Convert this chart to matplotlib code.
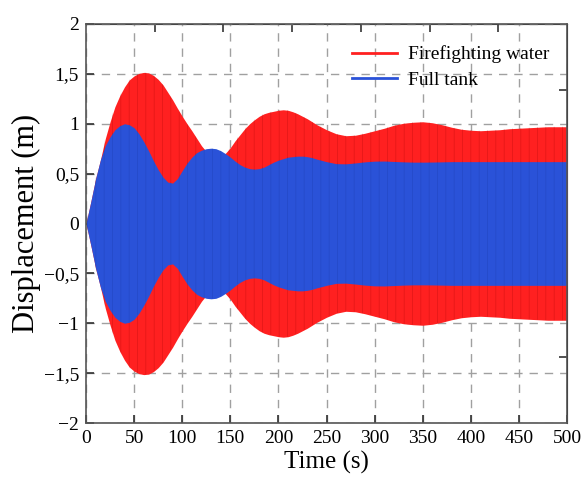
import numpy as np
import matplotlib.pyplot as plt

plt.rcParams['font.family'] = ['Liberation Serif', 'DejaVu Serif']
plt.rcParams['hatch.linewidth'] = 0.5

# envelope of the displacement response (m), sampled every 5 s to 240 s, then every 10 s
time = np.r_[0:245:5, 250:510:10]
firefighting_amp = [
    0.0, 0.22, 0.45, 0.64, 0.85, 1.02, 1.17, 1.28, 1.37, 1.44,
    1.48, 1.505, 1.515, 1.51, 1.485, 1.445, 1.39, 1.315, 1.24, 1.155,
    1.075, 1.0, 0.93, 0.855, 0.78, 0.72, 0.68, 0.665, 0.675, 0.705,
    0.76, 0.83, 0.89, 0.95, 1.0, 1.04, 1.075, 1.1, 1.115, 1.125,
    1.135, 1.14, 1.135, 1.12, 1.1, 1.075, 1.05, 1.02, 0.99,
    0.94, 0.9, 0.88, 0.885, 0.905, 0.93, 0.955, 0.985, 1.005, 1.015,
    1.02, 1.01, 0.99, 0.965, 0.945, 0.935, 0.93, 0.935, 0.94, 0.95,
    0.955, 0.96, 0.965, 0.97, 0.97, 0.97,
]
full_tank_amp = [
    0.0, 0.22, 0.45, 0.64, 0.78, 0.87, 0.94, 0.98, 1.0, 0.99,
    0.96, 0.9, 0.82, 0.73, 0.63, 0.54, 0.465, 0.415, 0.405, 0.45,
    0.53, 0.605, 0.665, 0.71, 0.735, 0.75, 0.755, 0.75, 0.73, 0.70,
    0.665, 0.625, 0.59, 0.565, 0.55, 0.545, 0.55, 0.565, 0.59, 0.615,
    0.635, 0.65, 0.665, 0.67, 0.675, 0.675, 0.67, 0.66, 0.645,
    0.62, 0.6, 0.598, 0.607, 0.618, 0.625, 0.626, 0.622, 0.618, 0.615,
    0.615, 0.616, 0.618, 0.62, 0.62, 0.62, 0.62, 0.62, 0.62, 0.62,
    0.62, 0.62, 0.62, 0.62, 0.62, 0.62,
]
series = [
    ('Firefighting water', firefighting_amp, '#ff2020', (0.6, 0.0, 0.0, 0.3)),
    ('Full tank', full_tank_amp, '#2a52d8', (0.05, 0.15, 0.5, 0.2)),
]
yticks = [-2, -1.5, -1, -0.5, 0, 0.5, 1, 1.5, 2]
ytick_labels = ['\u22122', '\u22121,5', '\u22121', '\u22120,5', '0', '0,5', '1', '1,5', '2']
xticks = [0, 50, 100, 150, 200, 250, 300, 350, 400, 450, 500]

fig = plt.figure(figsize=(5.84, 4.8), dpi=100)
ax = fig.add_axes([0.1473, 0.11875, 0.8236, 0.83125])

for i, (name, amp, color, stripe) in enumerate(series):
    amp = np.asarray(amp)
    ax.fill_between(time, -amp, amp, color=color, lw=0, zorder=2 + i)
    # thin vertical streaks left by the dense oscillation
    ax.fill_between(time, -amp, amp, facecolor='none', edgecolor=stripe,
                    hatch='||', lw=0, zorder=2 + i)
    ax.plot([], [], color=color, lw=2, label=name)

ax.set_xlim(0, 500)
ax.set_ylim(-2, 2)
ax.set_xticks(xticks)
ax.set_yticks(yticks)
ax.set_yticklabels(ytick_labels)
ax.grid(True, color='#a0a0a0', linestyle=(0, (6, 5)), lw=1.0)
ax.set_axisbelow(True)
ax.tick_params(direction='in', length=6, width=1.2, color='#333333',
               labelsize=14, pad=5)
for s in ax.spines.values():
    s.set_color('#555555')
    s.set_linewidth(1.2)
    s.set_zorder(5)

# stray ticks on the top and right frame
top = ax.secondary_xaxis('top')
top.set_xticks(np.linspace(0, 500, 8)[1:-1])
top.tick_params(direction='in', length=6, width=1.2, color='#333333', labeltop=False)
right = ax.secondary_yaxis('right')
right.set_yticks(np.linspace(-2, 2, 7)[1:-1])
right.tick_params(direction='in', length=6, width=1.2, color='#333333', labelright=False)

ax.set_xlabel('Time (s)', fontsize=18, labelpad=3)
ax.set_ylabel('Displacement (m)', fontsize=22, labelpad=2)

ax.legend(loc='upper right', bbox_to_anchor=(0.94, 0.905),
          bbox_transform=fig.transFigure, frameon=False, fontsize=14,
          handlelength=2.3, handletextpad=0.55, labelspacing=0.4,
          borderpad=0, borderaxespad=0)

fig.savefig('out.png', dpi=100)
